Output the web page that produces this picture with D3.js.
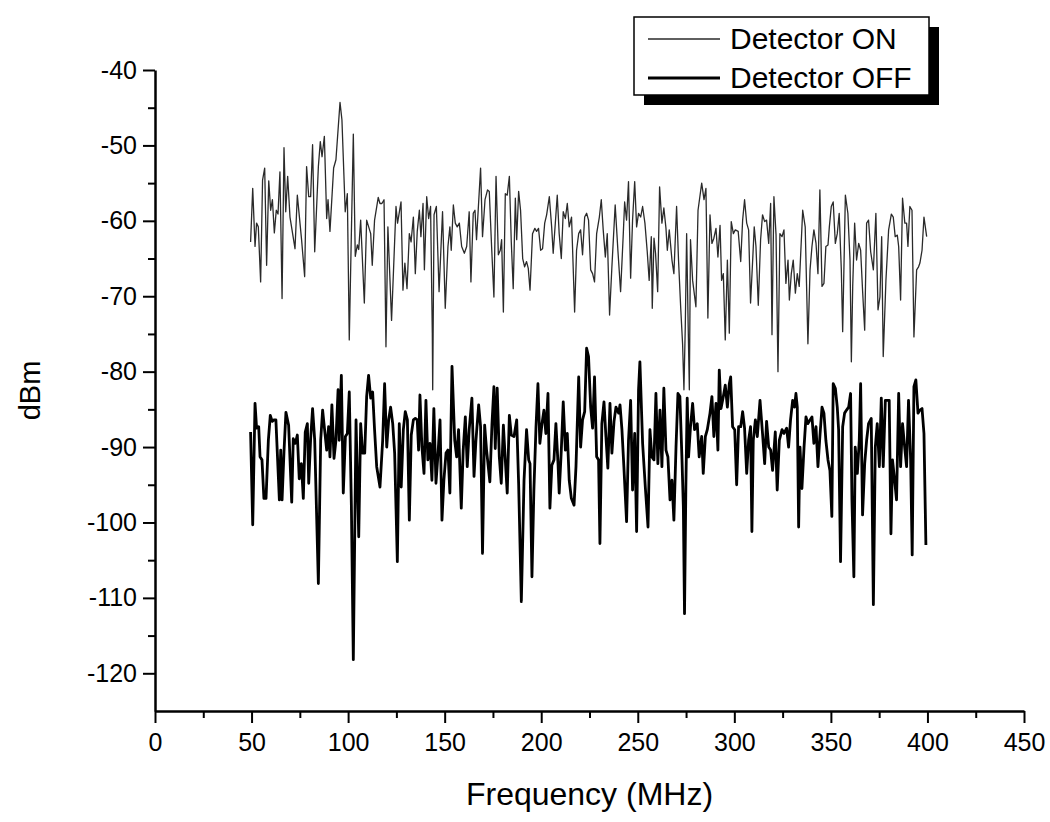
<!DOCTYPE html>
<html>
<head>
<meta charset="utf-8">
<script src="https://cdn.jsdelivr.net/npm/d3@7"></script>
<style>
  body { margin: 0; background: #fff; }
  svg text { font-family: "Liberation Sans", Arial, sans-serif; fill: #000; }
</style>
</head>
<body>
<div id="chart"></div>
<script>
// data: [frequency MHz, level dBm]
var onData = [
  [49.5,-62.8],[50.6,-55.7],[51.8,-63.4],[52.6,-60.3],[53.5,-60.8],[54.7,-68.1],[55.7,-54.6],[56.8,-53.0],
  [57.8,-65.9],[58.9,-54.7],[59.9,-58.6],[60.8,-57.2],[61.8,-61.6],[62.8,-58.6],[63.7,-59.1],[64.7,-53.5],
  [65.8,-70.3],[66.8,-50.3],[67.7,-58.8],[68.7,-54.1],[69.9,-59.5],[72.5,-63.7],[73.7,-56.6],[75.9,-62.5],
  [77.5,-67.4],[78.5,-52.8],[79.6,-56.8],[80.6,-56.8],[81.6,-49.9],[82.7,-64.1],[84.6,-52.8],[85.6,-49.5],
  [86.5,-51.5],[87.7,-48.8],[88.9,-59.7],[89.6,-57.2],[90.6,-61.4],[92.5,-53.0],[93.7,-51.9],[95.8,-44.3],
  [96.8,-46.6],[98.5,-58.8],[99.6,-56.4],[100.6,-75.8],[102.7,-48.5],[103.7,-64.7],[104.8,-63.2],[105.5,-63.8],
  [106.5,-59.9],[108.4,-70.9],[109.6,-59.9],[111.7,-61.7],[112.5,-65.9],[113.7,-59.9],[115.6,-56.9],[116.5,-57.7],
  [117.5,-57.7],[118.6,-57.2],[119.6,-76.7],[120.6,-60.8],[122.5,-73.2],[124.8,-58.1],[125.6,-60.3],[127.4,-57.5],
  [128.4,-69.2],[129.4,-65.6],[130.5,-69.0],[131.7,-61.7],[132.6,-62.8],[133.8,-59.5],[134.8,-67.0],[135.8,-61.4],
  [136.9,-58.6],[137.7,-62.1],[138.8,-57.7],[139.5,-66.5],[140.7,-56.8],[141.7,-59.7],[142.7,-58.1],[143.6,-74.9],
  [143.8,-82.4],[144.5,-59.2],[145.7,-58.1],[147.1,-69.4],
  [148.9,-58.8],[150.3,-71.6],[151.7,-63.4],[152.7,-60.8],[153.4,-63.9],[154.5,-57.9],[155.5,-60.3],[156.5,-60.8],
  [157.6,-60.3],[158.8,-63.4],[160.2,-64.3],[161.4,-63.4],[162.7,-58.8],[163.6,-68.1],[164.8,-59.0],[165.7,-58.6],
  [166.5,-62.5],[168.6,-53.0],[169.6,-62.1],[170.9,-57.2],[172.2,-55.9],[173.1,-56.1],[174.3,-63.4],[175.5,-70.1],
  [176.6,-54.1],[177.8,-64.5],[178.8,-63.9],[179.5,-62.5],[180.4,-72.1],[181.4,-56.4],[182.4,-56.6],[183.5,-54.1],
  [184.5,-62.8],[185.5,-69.0],[186.6,-57.0],[187.3,-62.5],[188.3,-56.1],[189.3,-58.6],[190.4,-65.0],[191.4,-66.1],
  [192.4,-65.4],[193.3,-66.3],[194.2,-69.2],[195.5,-61.7],[196.7,-61.0],[197.6,-61.4],[198.6,-61.0],[199.7,-63.9],
  [200.7,-63.7],[201.8,-60.3],[202.8,-59.2],[204.2,-56.8],[205.4,-60.8],[206.2,-64.3],[207.3,-60.3],[208.3,-56.6],
  [209.3,-61.7],[210.4,-65.0],[211.4,-58.8],[212.5,-59.7],[213.5,-57.7],[214.5,-60.8],[215.7,-59.5],[217.3,-72.1],
  [218.3,-63.9],[219.4,-61.7],[220.4,-61.2],[221.4,-64.5],[222.5,-59.5],[223.5,-59.0],[224.5,-59.9],[225.6,-66.5],
  [226.6,-67.0],[227.6,-68.1],[228.7,-61.7],[230.1,-59.5],[231.1,-57.2],[232.1,-61.2],[233.2,-64.8],[234.2,-61.7],
  [235.4,-72.5],[236.6,-66.1],[238.3,-57.9],[239.7,-63.9],[241.1,-69.4],[242.5,-61.7],[243.2,-57.5],[244.2,-59.9],
  [245.2,-54.8],[246.3,-67.6],[247.3,-59.9],[248.4,-54.8],[249.4,-60.8],[250.4,-59.0],[251.5,-59.5],[252.5,-58.1],
  [253.7,-60.3],[254.9,-64.1],[255.9,-67.9],[257.0,-62.1],[257.5,-71.6],[258.4,-62.3],[259.2,-64.3],[260.3,-69.4],
  [261.3,-55.5],[262.5,-60.3],[263.5,-58.3],[264.6,-61.0],[265.3,-63.9],[266.3,-61.2],[267.7,-65.2],[268.7,-67.0],
  [270.1,-58.1],[271.1,-65.2],[272.2,-71.4],[273.2,-76.3],[273.9,-82.4],[274.6,-74.0],[275.3,-61.7],[276.1,-74.0],
  [276.7,-82.4],[277.3,-62.5],[278.4,-67.9],[280.1,-71.4],[281.2,-58.6],
  [283.1,-55.0],[284.3,-57.2],[285.3,-55.7],[286.3,-72.9],[287.4,-59.2],[288.4,-63.0],[289.4,-62.3],[290.5,-61.0],
  [291.5,-64.8],[292.6,-60.6],[293.4,-67.9],[294.3,-67.0],[295.3,-75.8],[296.4,-65.2],[297.4,-74.9],[298.4,-60.1],
  [299.5,-61.7],[300.5,-61.2],[302.0,-61.4],[303.3,-65.4],[304.3,-59.9],[305.3,-57.2],[306.4,-60.3],[307.4,-61.2],
  [308.4,-70.9],[309.5,-65.2],[310.3,-60.8],[311.2,-63.4],[312.4,-71.2],[313.6,-62.5],[314.6,-59.2],[315.7,-60.1],
  [316.7,-59.9],[317.8,-63.0],[318.8,-57.7],[319.5,-75.1],[320.5,-56.8],[321.6,-61.9],[322.6,-80.0],[323.6,-61.7],
  [324.7,-62.1],[325.7,-61.2],[326.7,-68.3],[327.8,-65.2],[328.5,-70.5],[329.5,-67.0],[330.5,-65.2],[331.6,-69.6],
  [332.6,-67.0],[333.6,-68.7],[335.4,-58.6],[336.7,-60.8],[338.1,-76.3],[339.2,-66.5],[340.2,-63.4],[341.2,-61.2],
  [342.3,-63.0],[343.3,-67.0],[344.3,-55.9],[345.4,-68.7],[346.4,-68.3],[347.4,-63.4],[348.5,-63.2],[349.2,-60.8],
  [350.2,-58.1],[351.2,-57.5],[352.3,-63.0],[353.3,-61.7],[354.3,-59.0],[355.4,-66.5],[356.1,-74.7],[357.5,-56.6],
  [358.8,-59.0],[359.9,-65.2],[360.6,-78.7],[361.3,-68.7],[362.3,-60.3],[363.3,-65.2],[364.4,-63.0],[365.4,-63.9],
  [366.4,-69.2],[367.5,-74.5],[368.5,-60.3],[369.5,-59.9],[370.6,-64.1],[372.0,-66.5],[373.3,-59.0],[374.4,-71.8],
  [375.4,-70.1],[376.3,-62.1],[377.1,-78.0],[378.5,-67.9],[379.9,-61.2],[381.3,-59.1],[382.3,-59.5],[383.3,-62.1],
  [384.4,-61.9],[385.1,-63.4],[386.1,-70.5],[387.1,-57.0],[388.3,-60.3],[389.2,-60.3],[389.9,-63.4],[390.9,-58.1],
  [392.0,-58.6],[393.0,-75.4],[394.4,-66.5],[395.4,-66.1],[396.1,-65.6],[397.2,-63.9],[398.2,-59.5],[399.6,-62.1]
];

var offData = [
  [49.5,-88.0],[50.6,-100.3],[51.8,-84.2],[52.6,-87.5],[53.7,-87.3],[54.4,-91.3],[55.4,-91.7],[56.4,-96.8],
  [57.5,-96.8],[58.7,-89.1],[59.7,-85.8],[60.7,-86.6],[61.6,-86.4],[62.6,-86.4],[64.4,-97.0],[65.1,-90.4],
  [65.8,-97.0],[66.8,-90.6],[67.8,-85.4],[69.2,-87.1],[70.8,-97.3],[71.6,-88.9],[72.7,-89.5],[73.7,-88.4],
  [74.7,-94.2],[75.8,-92.2],[76.8,-96.8],[77.8,-88.0],[78.9,-86.9],[79.6,-94.8],[80.6,-88.9],[81.6,-84.9],
  [82.7,-89.1],[84.6,-108.1],[85.8,-89.1],[86.8,-85.1],[87.5,-86.9],[88.9,-90.4],[89.9,-87.3],[90.6,-91.3],
  [91.6,-84.4],[92.7,-91.5],[93.7,-89.1],[94.8,-82.4],[95.4,-89.1],[96.5,-80.5],[97.5,-96.1],[98.6,-88.6],
  [99.6,-88.2],[100.6,-82.7],[101.7,-97.9],[102.7,-118.2],[104.1,-86.4],[105.5,-101.9],[106.5,-86.9],[107.5,-90.8],
  [108.6,-90.8],[109.6,-83.3],[110.6,-80.5],[111.7,-83.5],[112.7,-82.7],[113.7,-87.7],[114.8,-92.6],[116.5,-95.3],
  [117.9,-89.1],[118.9,-81.6],[120.0,-90.0],[121.0,-86.4],[122.0,-84.7],[123.1,-86.9],[124.1,-90.8],[125.5,-105.2],
  [126.5,-86.9],[127.5,-95.3],[128.6,-87.7],[129.6,-85.3],[130.7,-86.4],[131.7,-99.7],[132.7,-88.4],[133.8,-86.4],
  [134.8,-86.2],[135.8,-86.4],[136.5,-90.4],
  [137.2,-83.1],[138.2,-89.9],[139.3,-93.5],[140.3,-83.8],[141.3,-91.7],[142.4,-89.5],[143.4,-94.4],[144.4,-84.9],
  [145.5,-94.8],[146.5,-91.1],[147.6,-86.4],[148.6,-99.7],[149.6,-94.4],[150.7,-90.8],[151.7,-90.4],[152.7,-96.1],
  [153.8,-79.3],[155.2,-89.1],[156.2,-91.3],[157.2,-87.7],[158.6,-98.1],[159.6,-90.4],[160.7,-86.0],[161.7,-92.6],
  [162.7,-87.7],[164.1,-83.5],[165.2,-93.9],[166.2,-89.1],[167.6,-84.4],[168.6,-87.3],[169.6,-104.1],[170.7,-87.1],
  [171.7,-90.4],[173.4,-94.6],[174.5,-86.9],[175.5,-82.0],[176.2,-90.2],[177.2,-82.2],[178.3,-91.3],[179.3,-94.8],
  [180.4,-87.1],[181.4,-91.7],[182.4,-96.1],[183.5,-85.8],[184.5,-88.4],[185.9,-88.6],[187.3,-86.4],[188.3,-94.8],
  [189.7,-110.5],[191.1,-94.4],[192.4,-87.7],[193.5,-91.7],[194.2,-92.2],[195.2,-107.2],[196.2,-95.7],[197.3,-87.3],
  [198.3,-81.6],[199.3,-89.5],[200.4,-86.9],[201.4,-85.1],[202.4,-88.2],[203.5,-82.9],[204.5,-98.1],[205.5,-92.4],
  [206.6,-91.7],[207.6,-86.9],[208.7,-92.2],[209.3,-96.1],[210.4,-90.4],[211.4,-84.0],[212.5,-90.4],[213.5,-88.2],
  [214.5,-94.4],[215.6,-96.8],[217.0,-97.7],[218.0,-92.6],[219.4,-80.7],[220.4,-90.0],[221.4,-86.4],[222.5,-85.3],
  [223.5,-76.9],[224.5,-78.0],[225.6,-84.7],[226.6,-87.5],[227.6,-80.7],[228.7,-91.3],[229.7,-91.7],[230.4,-102.8],
  [231.4,-86.9],[232.5,-84.0],[233.5,-88.6],[234.5,-92.8],[235.6,-84.2],[236.6,-90.8],[237.7,-86.6],[238.7,-84.7],
  [240.1,-85.5],[240.8,-84.4],[241.8,-87.7],[242.8,-92.6],[244.2,-99.9],[245.2,-89.1],[246.3,-83.8],[247.3,-95.7],
  [248.4,-88.2],[249.4,-101.2],[250.4,-82.4],[251.1,-78.7],[252.5,-89.5],[253.9,-95.3],[255.3,-100.6],[256.3,-87.7],
  [257.3,-91.3],[258.4,-91.7],[259.4,-82.9],[260.4,-92.2],[261.5,-85.1],[262.5,-92.6],[263.5,-82.2],[264.6,-90.4],
  [265.6,-91.3],[266.7,-97.0],[267.7,-94.4],[268.7,-99.7],[269.8,-90.0],[270.8,-82.9],[271.8,-83.3],[272.9,-91.7],
  [273.6,-97.9],[274.2,-112.1],[274.9,-95.3],[275.6,-83.5],[276.3,-91.3],[277.3,-87.3],[278.4,-84.2],[279.4,-87.7],
  [280.8,-86.9],[281.8,-91.3],
  [283.1,-88.6],[283.9,-93.5],[285.0,-88.6],[286.0,-87.7],[287.4,-85.5],[288.4,-83.3],[289.4,-88.6],[290.5,-84.2],
  [291.5,-90.4],[292.2,-79.8],[293.1,-84.9],[294.3,-83.3],[295.3,-81.8],[296.4,-84.7],[297.4,-81.6],[298.1,-80.7],
  [299.1,-87.3],[300.2,-87.7],[301.2,-95.0],[302.2,-87.3],[303.3,-87.3],[304.3,-85.3],[305.3,-87.5],[306.4,-93.5],
  [307.4,-89.1],[308.4,-87.3],[309.1,-101.2],[309.8,-89.1],[310.9,-86.4],[311.9,-88.6],[313.3,-83.8],[314.6,-88.2],
  [315.7,-92.2],[316.7,-86.6],[317.8,-90.0],[318.8,-90.4],[319.8,-93.1],[321.2,-88.0],[322.2,-95.7],[323.3,-89.1],
  [324.7,-87.7],[325.7,-88.2],[327.1,-87.5],[328.1,-90.0],[329.1,-86.4],[330.2,-83.8],[331.2,-84.7],[331.9,-82.9],
  [332.6,-84.7],[333.3,-100.6],[334.0,-90.0],[335.0,-95.5],[336.1,-90.0],[337.1,-86.0],[338.1,-86.9],[339.2,-86.4],
  [340.2,-86.0],[341.2,-89.5],[342.3,-87.3],[343.3,-92.6],[344.3,-88.6],[345.4,-84.7],[346.4,-85.5],[347.4,-89.1],
  [348.5,-91.7],[349.5,-93.1],[350.5,-99.2],[351.2,-81.6],[352.3,-82.2],[353.3,-84.7],[354.0,-87.7],[355.0,-105.2],
  [356.1,-87.3],[357.1,-85.5],[358.1,-85.1],[359.2,-84.7],[360.2,-82.9],[360.9,-97.0],[361.9,-107.2],[362.6,-90.0],
  [363.7,-93.5],[364.7,-89.1],[365.4,-81.6],[366.4,-99.0],[367.5,-92.2],[368.5,-89.1],[369.5,-86.9],[370.9,-86.2],
  [372.0,-110.9],[373.0,-90.0],[374.0,-86.9],[375.1,-92.6],[376.1,-83.5],[377.1,-92.6],[378.2,-83.8],[379.2,-83.8],
  [380.2,-83.8],[381.1,-101.5],[381.9,-91.7],[383.0,-94.4],[384.0,-97.0],[385.1,-82.9],[386.1,-92.6],[387.1,-86.9],
  [388.2,-90.0],[389.2,-92.6],[390.2,-83.8],[391.3,-91.7],[392.1,-104.3],[393.0,-82.0],[394.0,-81.1],[395.1,-85.5],
  [396.1,-85.1],[397.2,-84.9],[398.2,-88.2],[399.2,-103.0]
];

var seriesNames = ["Detector ON", "Detector OFF"];
var xTicks = [0, 50, 100, 150, 200, 250, 300, 350, 400, 450];
var yTicks = [-40, -50, -60, -70, -80, -90, -100, -110, -120];

var W = 1050, H = 822;
var margin = { top: 70, right: 26, bottom: 111, left: 155 };
var width = W - margin.left - margin.right;
var height = H - margin.top - margin.bottom;

var svg = d3.select("#chart").append("svg")
    .attr("width", W)
    .attr("height", H);

var g = svg.append("g")
    .attr("transform", "translate(" + margin.left + "," + margin.top + ")");

var x = d3.scaleLinear().domain([0, 450]).range([0, width]);
var y = d3.scaleLinear().domain([-40, -125]).range([0, height]);

// minor ticks first (shorter), then major
g.append("g")
    .attr("transform", "translate(0," + height + ")")
    .call(d3.axisBottom(x).tickValues(d3.range(25, 450, 50)).tickSize(7).tickFormat(""))
    .call(a => a.select(".domain").remove())
    .selectAll("line").attr("stroke-width", 2);
g.append("g")
    .call(d3.axisLeft(y).tickValues(d3.range(-45, -125, -10)).tickSize(7).tickFormat(""))
    .call(a => a.select(".domain").remove())
    .selectAll("line").attr("stroke-width", 2);

var xAxis = g.append("g")
    .attr("transform", "translate(0," + height + ")")
    .call(d3.axisBottom(x).tickValues(xTicks).tickSize(12).tickSizeOuter(0).tickPadding(8)
        .tickFormat(d => String(d)));
xAxis.select(".domain").attr("stroke-width", 2.5);
xAxis.selectAll("line").attr("stroke-width", 2);
xAxis.selectAll("text").style("font-size", "25px").attr("dy", "0.8em");

var yAxis = g.append("g")
    .call(d3.axisLeft(y).tickValues(yTicks).tickSize(12).tickSizeOuter(0).tickPadding(6)
        .tickFormat(d => String(d)));
yAxis.select(".domain").attr("stroke-width", 2.5);
yAxis.selectAll("line").attr("stroke-width", 2);
yAxis.selectAll("text").style("font-size", "25px");

var line = d3.line()
    .x(d => x(d[0]))
    .y(d => y(d[1]));

g.append("path")
    .datum(onData)
    .attr("fill", "none")
    .attr("stroke", "#2a2a2a")
    .attr("stroke-width", 1.3)
    .attr("stroke-linejoin", "round")
    .attr("d", line);

g.append("path")
    .datum(offData)
    .attr("fill", "none")
    .attr("stroke", "#000")
    .attr("stroke-width", 2.8)
    .attr("stroke-linejoin", "round")
    .attr("d", line);

// axis titles
svg.append("text")
    .attr("transform", "translate(40," + (margin.top + height / 2) + ") rotate(-90)")
    .attr("text-anchor", "middle")
    .style("font-size", "29px")
    .text("dBm");

svg.append("text")
    .attr("x", margin.left + width / 2)
    .attr("y", 805)
    .attr("text-anchor", "middle")
    .style("font-size", "32px")
    .text("Frequency (MHz)");

// legend with drop shadow
var legend = svg.append("g").attr("transform", "translate(634,17)");
legend.append("rect")
    .attr("x", 10).attr("y", 10)
    .attr("width", 295).attr("height", 78)
    .attr("fill", "#000");
legend.append("rect")
    .attr("width", 295).attr("height", 78)
    .attr("fill", "#fff")
    .attr("stroke", "#000")
    .attr("stroke-width", 1.5);

var widths = [1.3, 2.8];
seriesNames.forEach(function (name, i) {
    var ly = 22 + i * 39;
    legend.append("line")
        .attr("x1", 14).attr("x2", 86)
        .attr("y1", ly).attr("y2", ly)
        .attr("stroke", i === 0 ? "#2a2a2a" : "#000")
        .attr("stroke-width", widths[i]);
    legend.append("text")
        .attr("x", 96).attr("y", ly + 10)
        .style("font-size", "30px")
        .text(name);
});
</script>
</body>
</html>
